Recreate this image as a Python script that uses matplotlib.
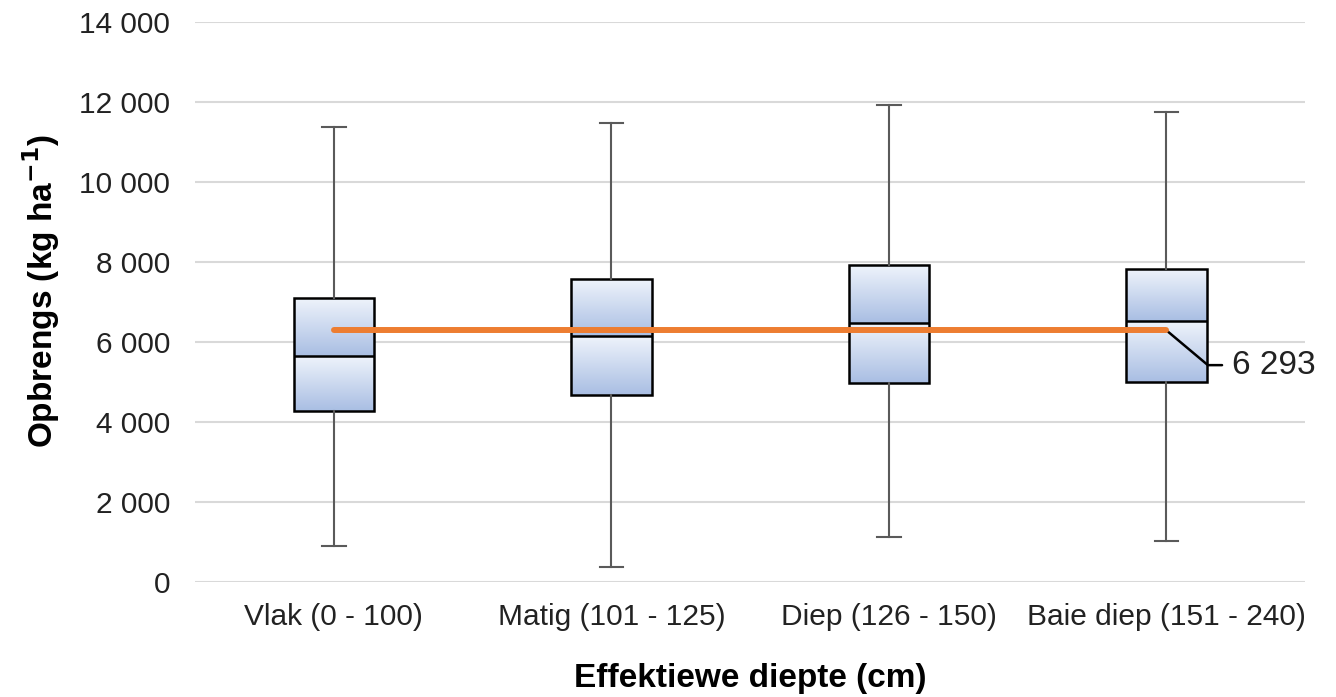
import matplotlib.pyplot as plt
import numpy as np
from matplotlib.colors import LinearSegmentedColormap

plt.rcParams.update({'font.family': ['Liberation Sans', 'DejaVu Sans'], 'font.size': 21.5})

categories = ['Vlak (0 - 100)', 'Matig (101 - 125)', 'Diep (126 - 150)', 'Baie diep (151 - 240)']
whislo = [900, 375, 1125, 1025]
q1 = [4275, 4675, 4975, 5000]
med = [5650, 6150, 6475, 6525]
q3 = [7100, 7575, 7925, 7825]
whishi = [11380, 11475, 11925, 11750]
mean_all = 6293

fig = plt.figure(figsize=(13.36, 6.97), dpi=100)
ax = fig.add_axes([0.146, 0.165, 0.831, 0.803])

pos = np.arange(len(categories))
width = 0.29
stats = [dict(whislo=a, q1=b, med=c, q3=d, whishi=e, fliers=[], label=n)
         for a, b, c, d, e, n in zip(whislo, q1, med, q3, whishi, categories)]
ax.bxp(stats, positions=pos, widths=width, patch_artist=True, showfliers=False,
       boxprops=dict(facecolor='none', edgecolor='black', linewidth=1.8),
       medianprops=dict(color='black', linewidth=1.8),
       whiskerprops=dict(color='#5a5a5a', linewidth=1.5),
       capprops=dict(color='#5a5a5a', linewidth=1.5),
       capwidths=0.085, zorder=3)

# gradient fill: each half goes light at top to blue at bottom
cmap = LinearSegmentedColormap.from_list('g', ['#a9bee3', '#eef3fb'])
grad = np.linspace(0, 1, 100).reshape(-1, 1)
for x, lo, m, hi in zip(pos, q1, med, q3):
    for a, b in [(lo, m), (m, hi)]:
        ax.imshow(grad, extent=[x - width / 2, x + width / 2, a, b], origin='lower',
                  aspect='auto', cmap=cmap, zorder=2)

ax.plot([pos[0], pos[-1]], [mean_all, mean_all], color='#ed7d31', lw=4.3,
        solid_capstyle='round', zorder=4)
ax.annotate(f'{mean_all:,}'.replace(',', ' '), xy=(pos[-1], mean_all), xytext=(47, -25),
            textcoords='offset points', va='center', ha='left', fontsize=24, color='#222222',
            arrowprops=dict(arrowstyle='-', color='black', lw=1.8, shrinkA=5, shrinkB=0,
                            relpos=(0, 0.5), connectionstyle='angle,angleA=0,angleB=-40,rad=0'))

ax.set_xlim(-0.5, len(categories) - 0.5)
ax.set_ylim(0, 14000)
ax.set_yticks(np.arange(0, 14001, 2000))
ax.set_yticklabels([f'{v:,}'.replace(',', ' ') for v in range(0, 14001, 2000)], color='#222222')
ax.set_xticks(pos)
ax.set_xticklabels(categories, color='#222222')
ax.tick_params(length=0)
ax.tick_params(axis='x', pad=15)
ax.tick_params(axis='y', pad=18)
ax.yaxis.grid(True, color='#d9d9d9', lw=1.5, zorder=0)
ax.set_axisbelow(True)
for s in ax.spines.values():
    s.set_visible(False)

ax.set_ylabel('Opbrengs (kg ha$^{\\mathbf{-1}}$)', fontsize=24, fontweight='bold', labelpad=8)
ax.yaxis.set_label_coords(-0.12, 0.52)
ax.set_xlabel('Effektiewe diepte (cm)', fontsize=24, fontweight='bold', labelpad=23)

fig.savefig('out.png', dpi=100)
